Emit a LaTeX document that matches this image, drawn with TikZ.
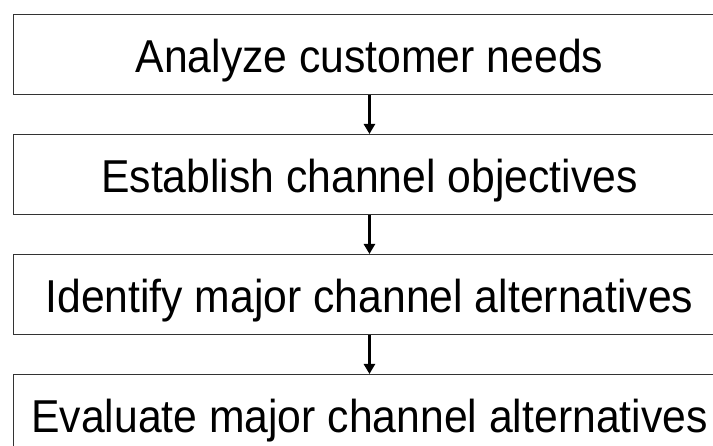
\documentclass[tikz,border=0pt]{standalone}
\usepackage{fontspec}
\setmainfont{Liberation Sans}
\usetikzlibrary{arrows.meta}
\newcommand{\steptext}[1]{\scalebox{1}[1.08]{#1}}
\begin{document}
\begin{tikzpicture}[x=1pt,y=-1pt,
  stepbox/.style={draw=black!80,line width=1.4pt,fill=white,rectangle,
    minimum width=712.5pt,minimum height=80pt,inner sep=0pt,anchor=north west,
    text height=36pt,text depth=0pt,
    font=\fontsize{42.7}{50}\selectfont},
  flow/.style={line width=2.8pt,-{Triangle[length=10pt,width=11pt]}}]
  \useasboundingbox (0,0) rectangle (713,446);
  \clip (0,0) rectangle (713,446);
  \node[stepbox] (b1) at (12.5,14) {\steptext{Analyze customer needs}};
  \node[stepbox] (b2) at (12.5,134) {\steptext{Establish channel objectives}};
  \node[stepbox] (b3) at (12.5,254) {\steptext{Identify major channel alternatives}};
  \node[stepbox] (b4) at (12.5,374) {\steptext{Evaluate major channel alternatives}};
  \draw[flow] (b1.south) -- (b2.north);
  \draw[flow] (b2.south) -- (b3.north);
  \draw[flow] (b3.south) -- (b4.north);
\end{tikzpicture}
\end{document}
